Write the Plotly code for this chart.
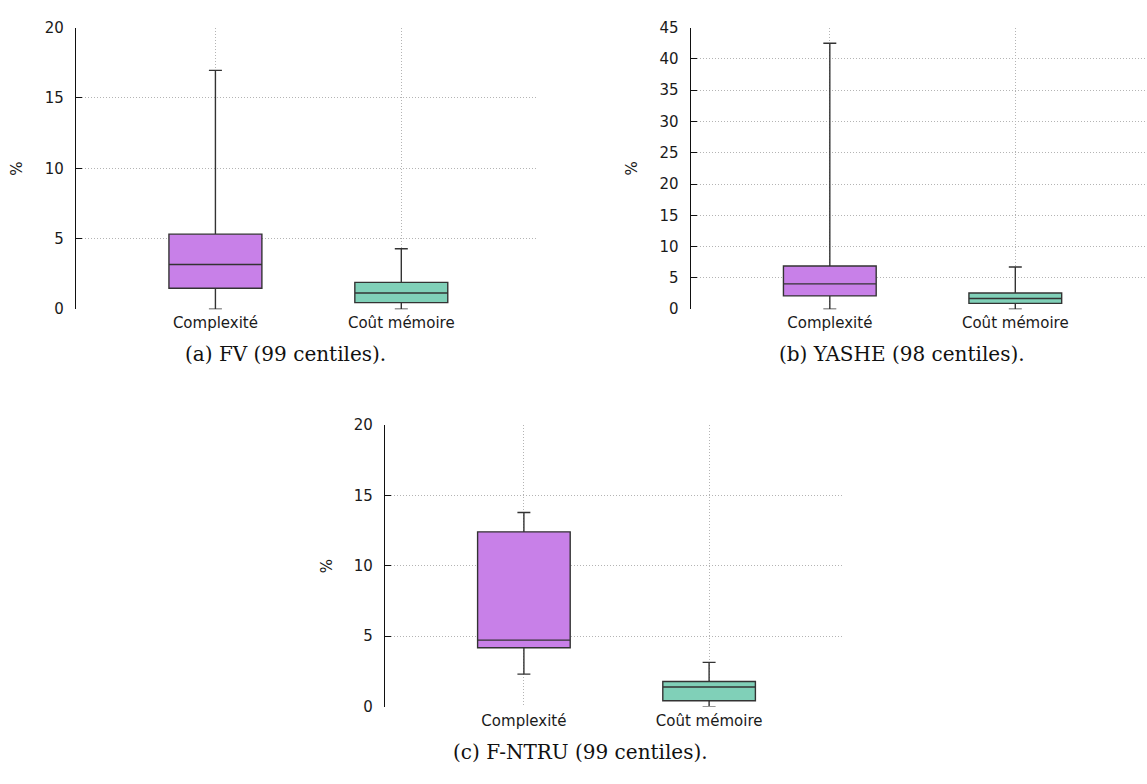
import plotly.graph_objects as go

# Category labels shared by the three panels
categories = ["Complexité", "Coût mémoire"]
positions = [0, 1]

# FV (99 centiles): box statistics per category, in %
fv_lower = [0.0, 0.0]
fv_q1 = [1.49, 0.47]
fv_median = [3.18, 1.15]
fv_q3 = [5.33, 1.91]
fv_upper = [16.96, 4.29]

# YASHE (98 centiles)
yashe_lower = [0.0, 0.0]
yashe_q1 = [2.13, 0.94]
yashe_median = [4.05, 1.72]
yashe_q3 = [6.90, 2.59]
yashe_upper = [42.5, 6.75]

# F-NTRU (99 centiles)
fntru_lower = [2.31, 0.0]
fntru_q1 = [4.18, 0.42]
fntru_median = [4.72, 1.39]
fntru_q3 = [12.41, 1.78]
fntru_upper = [13.78, 3.14]

captions = ["(a) FV (99 centiles).", "(b) YASHE (98 centiles).", "(c) F-NTRU (99 centiles)."]

FILLS = ["#C880E8", "#80D0B8"]
EDGE = "#333333"
GRID = "#b4b4b4"
W, H = 1147, 784

panels = [
    dict(ax="", lower=fv_lower, q1=fv_q1, med=fv_median, q3=fv_q3, up=fv_upper,
         xdom=[76 / W, 537 / W], ydom=[1 - 307.3 / H, 1 - 19 / H],
         xrange=[-0.75, 1.73], yrange=[0, 20], dtick=5),
    dict(ax="2", lower=yashe_lower, q1=yashe_q1, med=yashe_median, q3=yashe_q3, up=yashe_upper,
         xdom=[690.7 / W, 1.0], ydom=[1 - 307.3 / H, 1 - 19 / H],
         xrange=[-0.75, 1.71], yrange=[0, 45], dtick=5),
    dict(ax="3", lower=fntru_lower, q1=fntru_q1, med=fntru_median, q3=fntru_q3, up=fntru_upper,
         xdom=[385 / W, 844.3 / W], ydom=[1 - 714 / H, 1 - 425.7 / H],
         xrange=[-0.75, 1.73], yrange=[0, 20], dtick=5),
]

fig = go.Figure()
layout = dict(
    width=W, height=H,
    margin=dict(l=0, r=0, t=0, b=0),
    paper_bgcolor="white", plot_bgcolor="white",
    boxmode="overlay", showlegend=False,
    font=dict(family="DejaVu Sans", size=15, color="#1a1a1a"),
)

annotations = []
for p in panels:
    for i in range(len(categories)):
        fig.add_trace(go.Box(
            x=[positions[i]],
            lowerfence=[p["lower"][i]], q1=[p["q1"][i]], median=[p["med"][i]],
            q3=[p["q3"][i]], upperfence=[p["up"][i]],
            width=0.5, whiskerwidth=0.14,
            fillcolor=FILLS[i], line=dict(color=EDGE, width=1.4),
            boxpoints=False, name=categories[i],
            xaxis="x" + p["ax"], yaxis="y" + p["ax"],
        ))
    layout["xaxis" + p["ax"]] = dict(
        domain=p["xdom"], range=p["xrange"], anchor="y" + p["ax"],
        tickmode="array", tickvals=positions, ticktext=categories,
        showgrid=True, gridcolor=GRID, griddash="1px,2px", gridwidth=1,
        zeroline=False, showline=False, ticks="",
        tickfont=dict(size=15), ticklabelstandoff=3,
    )
    layout["yaxis" + p["ax"]] = dict(
        domain=p["ydom"], range=p["yrange"], anchor="x" + p["ax"],
        dtick=p["dtick"], tick0=0,
        showgrid=True, gridcolor=GRID, griddash="1px,2px", gridwidth=1,
        zeroline=False, showline=True, linecolor="#111111", linewidth=1.3,
        ticks="inside", ticklen=6, tickcolor="#111111", tickwidth=1.3,
        tickfont=dict(size=15), ticklabelstandoff=8,
    )
    # rotated "%" axis label
    x0 = p["xdom"][0] * W - 58.6
    annotations.append(dict(
        text="%", x=x0 / W, y=(p["ydom"][0] + p["ydom"][1]) / 2,
        xref="paper", yref="paper", showarrow=False, textangle=-90,
        xanchor="center", yanchor="middle", font=dict(size=15),
    ))

caption_xy = [(285, 353), (902, 353), (580, 760)]
for text, (cx, cy) in zip(captions, caption_xy):
    annotations.append(dict(
        text=text, x=cx / W, y=1 - cy / H, xref="paper", yref="paper",
        showarrow=False, xanchor="center", yanchor="middle",
        font=dict(family="DejaVu Serif", size=20, color="#111111"),
    ))

layout["annotations"] = annotations
fig.update_layout(**layout)
fig.write_html("out.html")
